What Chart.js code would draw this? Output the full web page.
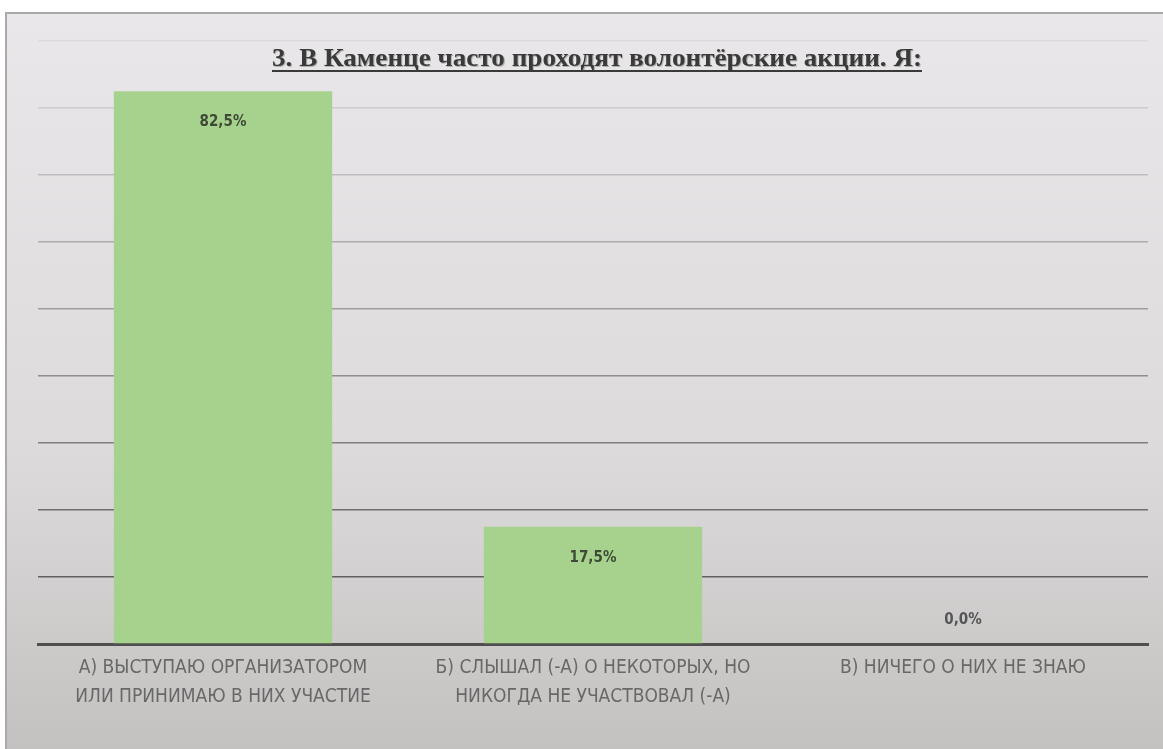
<!DOCTYPE html>
<html>
<head>
<meta charset="utf-8">
<script src="https://cdn.jsdelivr.net/npm/chart.js@4/dist/chart.umd.min.js"></script>
<style>
  html, body { margin: 0; padding: 0; background: #fff; }
  #wrap { width: 1163px; height: 749px; position: relative; }
</style>
</head>
<body>
<div id="wrap"><canvas id="chart"></canvas></div>
<script>
const chartTitle = "3. В Каменце часто проходят волонтёрские акции. Я:";
const categories = [
    ["А) ВЫСТУПАЮ ОРГАНИЗАТОРОМ", "ИЛИ ПРИНИМАЮ В НИХ УЧАСТИЕ"],
    ["Б) СЛЫШАЛ (-А) О НЕКОТОРЫХ, НО", "НИКОГДА НЕ УЧАСТВОВАЛ (-А)"],
    ["В) НИЧЕГО О НИХ НЕ ЗНАЮ"]
];
const values = [82.5, 17.5, 0];
const valueLabels = ["82,5%", "17,5%", "0,0%"];
const yMax = 90;
const yStep = 10;

// gray gradient panel behind everything
const panelBg = {
    id: "panelBg",
    beforeDraw(chart) {
        const { ctx, width, height } = chart;
        ctx.save();
        ctx.fillStyle = "#fff";
        ctx.fillRect(0, 0, width, height);
        const g = ctx.createLinearGradient(0, 12, 0, height);
        g.addColorStop(0, "#e9e7e9");
        g.addColorStop(0.6, "#dcdadb");
        g.addColorStop(1, "#c4c2c0");
        ctx.fillStyle = g;
        ctx.fillRect(5, 12, width - 5, height - 12);
        ctx.strokeStyle = "#a9a9a9";
        ctx.lineWidth = 2;
        ctx.beginPath();
        ctx.moveTo(6, height);
        ctx.lineTo(6, 13);
        ctx.lineTo(width, 13);
        ctx.stroke();
        ctx.restore();
    }
};

// title drawn over the plot, narrow and underlined like the original
const overlayTitle = {
    id: "overlayTitle",
    afterDraw(chart) {
        const { ctx } = chart;
        ctx.save();
        ctx.font = "bold 26px 'Liberation Serif', serif";
        ctx.textAlign = "center";
        ctx.textBaseline = "alphabetic";
        const x = 597, y = 66, targetW = 650;
        const w = ctx.measureText(chartTitle).width;
        ctx.translate(x, y);
        ctx.scale(targetW / w, 1);
        ctx.fillStyle = "rgba(140,140,140,0.6)";
        ctx.fillText(chartTitle, 1, 1);
        ctx.fillStyle = "#3a3a3a";
        ctx.fillText(chartTitle, 0, 0);
        ctx.fillRect(-w / 2, 4, w, 2);
        ctx.restore();
    }
};

// value labels inside the bar top (or above the axis for zero)
const valueTags = {
    id: "valueTags",
    afterDatasetsDraw(chart) {
        const { ctx } = chart;
        const meta = chart.getDatasetMeta(0);
        ctx.save();
        ctx.font = "bold 15px 'DejaVu Sans Condensed', 'DejaVu Sans', sans-serif";
        ctx.textAlign = "center";
        ctx.textBaseline = "middle";
        meta.data.forEach((bar, i) => {
            const y = values[i] > 0 ? bar.y + 31 : bar.y - 24;
            ctx.fillStyle = values[i] > 0 ? "#3e4a36" : "#555";
            ctx.fillText(valueLabels[i], bar.x, y);
        });
        ctx.restore();
    }
};

function gridColor(ctx) {
    const v = ctx.tick.value;
    if (v === 0) return "rgba(0,0,0,0)";
    const shade = Math.round(80 + (v / yMax) * 140);
    return `rgb(${shade},${shade},${shade})`;
}

new Chart(document.getElementById("chart"), {
    type: "bar",
    data: {
        labels: categories,
        datasets: [{
            data: values,
            backgroundColor: "#a7d28e",
            borderWidth: 0,
            categoryPercentage: 1,
            barPercentage: 0.59
        }]
    },
    options: {
        responsive: true,
        maintainAspectRatio: false,
        animation: false,
        layout: { padding: { left: 38, right: 15, top: 41, bottom: 0 } },
        plugins: { legend: { display: false }, tooltip: { enabled: false }, title: { display: false } },
        scales: {
            x: {
                grid: { display: false },
                border: { display: true, color: "#4f4f4f", width: 3 },
                ticks: {
                    color: "#686868",
                    font: { family: "'Liberation Sans Narrow', 'DejaVu Sans Condensed', sans-serif", size: 19, lineHeight: 1.5 },
                    padding: 2,
                    maxRotation: 0,
                    autoSkip: false
                },
                afterFit(scale) { scale.height = 105; }
            },
            y: {
                min: 0,
                max: yMax,
                ticks: { display: false, stepSize: yStep },
                border: { display: false },
                grid: { color: gridColor, lineWidth: 1.5, drawTicks: false },
                afterFit(scale) { scale.width = 0; }
            }
        }
    },
    plugins: [panelBg, overlayTitle, valueTags]
});
</script>
</body>
</html>
